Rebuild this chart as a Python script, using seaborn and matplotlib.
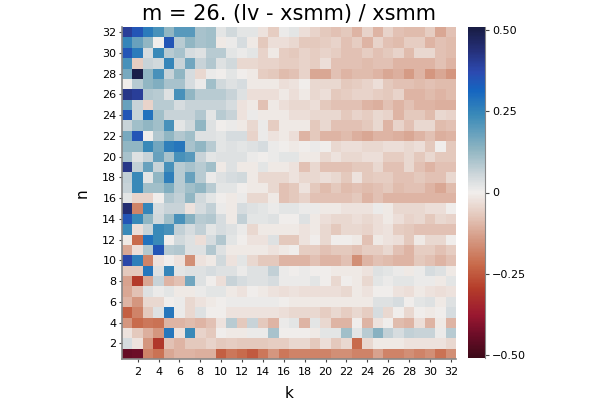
import numpy as np
import pandas as pd
import matplotlib
matplotlib.use("Agg")
import matplotlib.pyplot as plt
import seaborn as sns
from matplotlib.colors import LinearSegmentedColormap

# k runs along x (1..32), n along y (1..32)
k_values = list(range(1, 33))
n_values = list(range(32, 0, -1))  # top row first

# rows n = 32 .. 17, columns k = 1 .. 32
rows_upper = [
    [0.40, 0.35, 0.27, 0.22, 0.13, 0.20, 0.20, 0.10, 0.11, 0.02, 0.05, 0.02, 0.02, -0.02, -0.06, 0.01,
     0.02, -0.03, -0.05, -0.07, -0.08, -0.07, -0.10, -0.05, -0.10, -0.05, -0.08, -0.09, -0.09, -0.06, -0.12, -0.08],
    [0.25, 0.18, 0.13, 0.00, 0.35, 0.08, 0.13, 0.10, 0.11, -0.01, 0.01, 0.04, -0.01, -0.07, -0.03, -0.03,
     -0.04, -0.07, -0.07, -0.06, -0.05, -0.08, -0.06, -0.10, -0.05, -0.08, -0.09, -0.06, -0.06, -0.10, -0.08, -0.09],
    [0.35, 0.27, 0.04, 0.24, 0.08, 0.10, 0.04, 0.03, 0.08, 0.08, 0.02, 0.01, 0.02, -0.05, -0.01, -0.06,
     -0.07, -0.05, -0.06, -0.05, -0.06, -0.08, -0.08, -0.06, -0.08, -0.07, -0.05, -0.09, -0.04, -0.04, -0.08, -0.09],
    [0.22, -0.06, 0.06, 0.05, 0.25, 0.06, 0.17, 0.06, 0.09, 0.03, 0.05, -0.04, -0.04, -0.05, -0.05, -0.06,
     -0.06, -0.05, -0.06, -0.03, -0.08, -0.08, -0.08, -0.09, -0.08, -0.08, -0.10, -0.10, -0.10, -0.10, -0.08, -0.10],
    [0.16, 0.50, 0.13, 0.22, 0.06, 0.13, 0.04, -0.04, 0.01, 0.00, 0.02, 0.00, -0.01, -0.06, -0.07, -0.09,
     -0.08, -0.05, -0.12, -0.12, -0.08, -0.10, -0.09, -0.09, -0.10, -0.12, -0.11, -0.14, -0.10, -0.15, -0.12, -0.15],
    [0.00, 0.08, 0.13, 0.15, 0.10, 0.10, 0.04, 0.01, 0.11, 0.05, 0.03, 0.04, -0.01, -0.01, -0.01, -0.03,
     -0.02, 0.00, -0.04, -0.04, -0.04, -0.07, -0.06, -0.05, -0.03, -0.07, -0.08, -0.08, -0.09, -0.08, -0.09, -0.09],
    [0.42, 0.40, 0.09, 0.08, 0.03, 0.22, 0.13, 0.08, 0.08, 0.08, 0.06, 0.03, -0.03, -0.03, -0.03, -0.01,
     -0.03, -0.01, -0.04, -0.03, -0.07, -0.06, -0.05, -0.05, -0.06, -0.07, -0.05, -0.10, -0.10, -0.09, -0.10, -0.09],
    [0.18, 0.06, -0.05, 0.08, 0.08, 0.04, 0.06, 0.06, 0.06, 0.06, 0.04, -0.02, -0.01, -0.08, -0.01, -0.03,
     -0.04, -0.04, -0.03, -0.07, -0.08, -0.08, -0.08, -0.10, -0.11, -0.08, -0.10, -0.08, -0.10, -0.10, -0.11, -0.11],
    [0.35, 0.06, 0.29, 0.11, 0.06, 0.06, 0.06, 0.09, 0.02, 0.08, 0.06, -0.02, 0.01, -0.01, -0.01, -0.01,
     -0.03, -0.03, -0.04, -0.04, -0.04, -0.07, -0.05, -0.06, -0.04, -0.05, -0.10, -0.07, -0.07, -0.09, -0.04, -0.05],
    [0.06, 0.11, 0.13, 0.11, 0.22, 0.02, 0.05, 0.13, 0.03, 0.00, 0.01, -0.01, -0.04, 0.01, -0.06, -0.01,
     -0.01, -0.01, -0.07, -0.04, -0.08, -0.08, -0.08, -0.07, -0.04, -0.10, -0.05, -0.08, -0.04, -0.04, -0.09, -0.08],
    [0.16, 0.35, 0.00, 0.09, 0.13, 0.09, 0.11, 0.03, 0.03, 0.02, 0.04, 0.04, -0.05, 0.01, -0.02, -0.01,
     -0.03, -0.10, -0.07, -0.10, -0.10, -0.09, -0.11, -0.12, -0.10, -0.10, -0.11, -0.12, -0.10, -0.08, -0.11, -0.10],
    [0.13, 0.13, 0.24, 0.17, 0.26, 0.28, 0.10, 0.13, 0.08, 0.02, 0.03, 0.02, 0.03, 0.04, 0.01, 0.00,
     -0.01, 0.00, 0.01, 0.00, -0.04, -0.03, -0.03, -0.04, -0.04, -0.03, -0.03, -0.04, -0.03, -0.07, 0.00, -0.07],
    [0.10, 0.03, 0.06, 0.18, 0.10, 0.22, 0.20, 0.06, 0.02, 0.03, 0.03, 0.03, 0.01, 0.00, 0.01, 0.02,
     0.02, -0.01, -0.01, -0.04, -0.02, -0.04, -0.04, -0.03, -0.03, -0.06, -0.06, -0.04, -0.07, -0.04, -0.07, -0.07],
    [0.42, 0.07, 0.18, 0.06, 0.22, 0.08, 0.10, 0.08, 0.11, -0.01, 0.03, -0.01, -0.01, 0.02, -0.01, -0.01,
     -0.02, -0.08, -0.04, -0.08, -0.08, -0.08, -0.07, -0.07, -0.04, -0.08, -0.08, -0.04, -0.08, -0.10, -0.08, -0.08],
    [0.07, 0.24, 0.02, 0.13, 0.26, 0.08, 0.18, 0.08, 0.01, 0.03, 0.04, 0.05, -0.01, -0.04, -0.04, -0.04,
     -0.02, -0.04, -0.04, -0.03, -0.04, -0.07, -0.02, -0.07, -0.06, -0.06, -0.08, -0.08, -0.07, -0.08, -0.08, -0.04],
    [0.06, 0.24, 0.11, 0.11, 0.15, 0.08, 0.11, 0.13, 0.08, 0.02, 0.02, 0.00, -0.01, -0.01, -0.04, -0.08,
     -0.07, -0.02, -0.07, -0.09, -0.07, -0.09, -0.08, -0.09, -0.08, -0.07, -0.09, -0.08, -0.08, -0.10, -0.12, -0.09],
]

# rows n = 16 .. 1
rows_lower = [
    [0.02, -0.05, -0.05, 0.00, 0.09, 0.07, 0.13, 0.05, 0.02, 0.00, -0.01, 0.01, -0.04, -0.04, -0.01, -0.08,
     -0.07, -0.05, -0.08, -0.08, -0.08, -0.08, -0.07, -0.10, -0.08, -0.10, -0.10, -0.10, -0.10, -0.10, -0.10, -0.10],
    [0.45, -0.18, 0.25, 0.04, 0.06, 0.06, -0.02, 0.04, 0.07, 0.01, -0.01, 0.04, 0.03, 0.02, 0.01, 0.02,
     0.02, 0.01, 0.01, -0.01, -0.01, -0.02, -0.02, -0.02, 0.01, -0.01, -0.04, -0.04, -0.04, -0.03, -0.03, 0.00],
    [0.35, 0.24, 0.13, 0.05, 0.11, 0.22, 0.14, 0.08, 0.09, 0.04, -0.01, 0.07, 0.02, 0.02, 0.03, 0.00,
     0.00, 0.03, -0.01, -0.03, -0.04, -0.04, -0.03, -0.04, -0.03, -0.01, -0.03, -0.05, -0.04, -0.07, -0.04, -0.05],
    [0.24, -0.03, 0.06, 0.24, 0.22, 0.07, 0.04, 0.07, 0.02, 0.04, 0.03, 0.01, -0.04, -0.01, -0.01, -0.01,
     -0.01, -0.02, -0.01, -0.04, -0.07, -0.04, -0.04, -0.05, -0.03, -0.02, -0.06, -0.07, -0.08, -0.08, -0.08, -0.08],
    [-0.01, -0.22, 0.29, 0.24, 0.00, 0.05, 0.03, -0.03, 0.04, 0.09, 0.02, 0.00, -0.02, -0.02, 0.03, -0.07,
     -0.07, -0.02, 0.00, -0.04, 0.00, 0.00, -0.01, -0.08, -0.01, -0.02, -0.03, -0.07, -0.01, -0.04, -0.04, 0.00],
    [-0.12, -0.03, 0.09, 0.35, 0.08, 0.09, 0.03, 0.03, 0.09, 0.03, -0.01, -0.01, -0.01, -0.01, -0.02, -0.01,
     0.00, -0.06, -0.06, -0.08, -0.07, -0.07, -0.08, -0.06, -0.06, -0.04, -0.08, -0.10, -0.06, -0.06, -0.08, -0.06],
    [0.38, 0.26, -0.18, -0.02, 0.00, -0.02, -0.16, -0.02, -0.01, 0.05, -0.02, 0.02, -0.04, -0.07, -0.07, -0.10,
     -0.10, -0.10, -0.08, -0.10, -0.10, -0.08, -0.16, -0.10, -0.08, -0.09, -0.10, -0.10, -0.07, -0.08, -0.10, -0.08],
    [-0.07, -0.07, 0.28, 0.03, 0.25, 0.02, 0.03, 0.03, 0.04, 0.03, 0.03, 0.01, 0.03, 0.03, 0.07, 0.01,
     0.00, 0.01, 0.00, 0.00, -0.01, -0.01, -0.01, -0.02, 0.03, 0.02, 0.01, -0.01, 0.01, 0.04, 0.03, -0.01],
    [-0.13, -0.30, -0.12, 0.06, -0.10, -0.08, 0.17, 0.03, 0.00, -0.03, 0.06, 0.04, 0.03, 0.03, 0.04, 0.01,
     0.01, 0.01, 0.02, 0.00, -0.04, 0.00, -0.01, -0.04, 0.02, 0.01, 0.02, 0.02, 0.01, 0.01, -0.01, 0.02],
    [-0.12, -0.08, 0.03, 0.01, 0.02, -0.01, -0.01, 0.01, 0.02, 0.02, -0.01, -0.02, 0.00, -0.01, -0.02, -0.03,
     -0.02, -0.03, -0.03, -0.03, -0.03, -0.04, -0.01, -0.02, 0.00, 0.00, -0.02, -0.03, -0.01, -0.02, -0.03, -0.02],
    [-0.10, -0.15, -0.04, -0.04, 0.00, 0.01, -0.04, -0.02, -0.01, 0.00, 0.01, 0.01, 0.01, 0.01, 0.01, 0.00,
     -0.01, -0.01, -0.01, -0.01, -0.01, -0.01, -0.01, -0.01, 0.03, 0.03, 0.04, 0.00, 0.02, 0.03, -0.01, 0.03],
    [-0.24, -0.18, -0.07, 0.03, 0.28, 0.01, -0.04, 0.03, 0.00, 0.00, -0.02, -0.02, -0.02, -0.02, -0.02, -0.03,
     -0.04, -0.04, -0.04, -0.06, -0.04, -0.06, -0.04, -0.06, 0.04, -0.04, 0.00, -0.04, 0.00, -0.01, 0.00, 0.04],
    [-0.15, -0.22, -0.20, -0.21, -0.10, -0.10, -0.09, -0.10, -0.08, -0.02, 0.08, -0.07, 0.06, -0.07, -0.10, 0.01,
     0.02, -0.10, 0.02, -0.04, -0.10, -0.10, 0.00, -0.10, -0.02, 0.00, -0.09, -0.10, -0.03, -0.10, -0.01, -0.10],
    [-0.02, -0.07, -0.11, -0.15, 0.28, -0.02, 0.24, -0.05, -0.07, 0.00, -0.01, -0.01, 0.01, 0.01, 0.10, 0.00,
     0.00, 0.00, -0.01, 0.02, 0.02, 0.11, 0.02, 0.08, 0.14, 0.07, 0.04, 0.07, 0.06, 0.06, 0.01, 0.08],
    [0.04, -0.02, -0.15, -0.31, -0.08, -0.10, -0.07, -0.07, -0.05, -0.07, -0.06, -0.07, -0.07, -0.07, -0.06, -0.06,
     -0.04, -0.04, -0.07, -0.03, -0.07, -0.04, -0.22, -0.04, -0.01, -0.01, -0.01, -0.02, -0.02, -0.02, -0.02, -0.04],
    [-0.45, -0.44, -0.18, -0.21, -0.12, -0.10, -0.10, -0.11, -0.11, -0.24, -0.20, -0.22, -0.25, -0.20, -0.15, -0.20,
     -0.18, -0.18, -0.18, -0.18, -0.16, -0.16, -0.18, -0.18, -0.13, -0.18, -0.18, -0.16, -0.18, -0.16, -0.21, -0.16],
]

x_ticks = list(range(2, 33, 2))
y_ticks = list(range(2, 33, 2))
cbar_ticks = [-0.5, -0.25, 0.0, 0.25, 0.5]
cbar_labels = ["\u22120.50", "\u22120.25", "0", "0.25", "0.50"]

# diverging red-white-blue map (balance-like), low values red, high values blue
balance = LinearSegmentedColormap.from_list("balance_like", [
    (0.00, "#3c0918"), (0.07, "#6e0d28"), (0.13, "#9a1830"), (0.21, "#b53d2a"),
    (0.28, "#c86a4a"), (0.36, "#d59a84"), (0.43, "#e4c8bc"), (0.50, "#f1eeec"),
    (0.555, "#cdd6da"), (0.63, "#8fb5c2"), (0.735, "#3a8ab8"), (0.81, "#1565c0"),
    (0.865, "#2c4ab0"), (0.93, "#25307a"), (1.00, "#181c43"),
])

df = pd.DataFrame(rows_upper + rows_lower, index=n_values, columns=k_values)

fig = plt.figure(figsize=(6, 4), dpi=100)
ax = fig.add_axes([122 / 600, 41 / 400, 334 / 600, 332 / 400])
cax = fig.add_axes([468 / 600, 42 / 400, 17 / 600, 331 / 400])

sns.heatmap(df, ax=ax, cbar_ax=cax, cmap=balance, vmin=-0.51, vmax=0.51,
            xticklabels=False, yticklabels=False)

ax.set_xticks([k - 0.5 for k in x_ticks])
ax.set_xticklabels([str(k) for k in x_ticks], fontsize=8)
ax.set_yticks([32 - n + 0.5 for n in y_ticks])
ax.set_yticklabels([str(n) for n in y_ticks], fontsize=8, rotation=0)
ax.tick_params(direction="out", length=2, width=0.8, color="#444444", pad=2)
ax.tick_params(axis="x", pad=4)

for side in ["left", "bottom"]:
    ax.spines[side].set_visible(True)
    ax.spines[side].set_color("#888888")
    ax.spines[side].set_linewidth(1.2)

ax.set_xlabel("k", fontsize=11, labelpad=6)
ax.set_ylabel("n", fontsize=11, labelpad=9)
ax.set_title("m = 26. (lv - xsmm) / xsmm", fontsize=15, pad=5)

cbar = ax.collections[0].colorbar
cbar.outline.set_visible(False)
cbar.set_ticks(cbar_ticks)
cbar.set_ticklabels(cbar_labels)
cax.tick_params(labelsize=8, length=3, width=0.8, color="#444444", pad=2)
cax.spines["right"].set_visible(True)
cax.spines["right"].set_color("#888888")

fig.savefig("out.png", dpi=100)
